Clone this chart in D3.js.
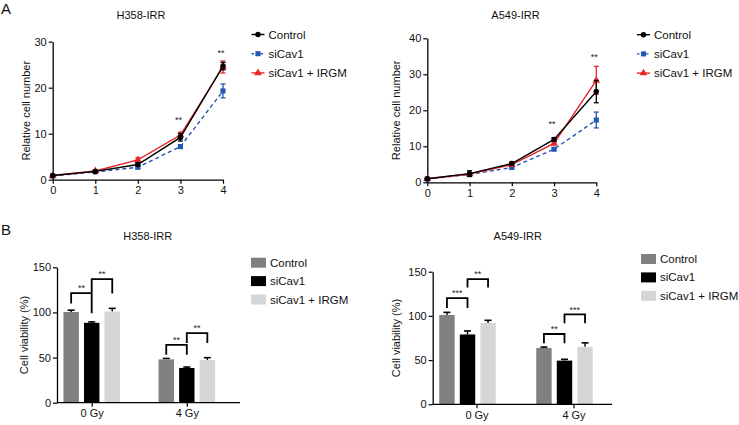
<!DOCTYPE html>
<html>
<head>
<meta charset="utf-8">
<script src="https://cdn.jsdelivr.net/npm/d3@7"></script>
<style>
body{margin:0;background:#fff}
svg{display:block;font-family:"Liberation Sans",Arial,Helvetica,sans-serif}
</style>
</head>
<body>
<svg id="chart" width="739" height="425"></svg>
<script>
// ---------- data
const days = [0, 1, 2, 3, 4];
const seriesNames = ["Control", "siCav1", "siCav1 + IRGM"];

// A: relative cell number, H358-IRR
const h358Control = [0.9, 1.8, 3.3, 9.2, 24.7];
const h358ControlErr = [0.2, 0.2, 0.4, 0.8, 0.8];
const h358SiCav1 = [0.8, 1.7, 2.7, 7.2, 19.3];
const h358SiCav1Err = [0.1, 0.2, 0.3, 0.4, 1.5];
const h358Irgm = [0.9, 1.9, 4.3, 9.7, 24.5];
const h358IrgmErr = [0.1, 0.2, 0.5, 0.6, 1.3];
const h358LineStars = [{day: 3, y: 13.1, label: "**"}, {day: 4, y: 27.8, label: "**"}];

// A: relative cell number, A549-IRR
const a549Control = [1.0, 2.4, 5.2, 11.9, 25.2];
const a549ControlErr = [0.2, 0.8, 0.4, 0.5, 3.1];
const a549SiCav1 = [0.9, 2.2, 4.1, 9.2, 17.3];
const a549SiCav1Err = [0.1, 0.3, 0.2, 0.4, 2.2];
const a549Irgm = [1.0, 2.3, 4.9, 10.8, 28.3];
const a549IrgmErr = [0.1, 0.3, 0.3, 0.3, 3.9];
const a549LineStars = [{day: 3, y: 16.6, label: "**"}, {day: 4, y: 35.1, label: "**"}];

// B: cell viability (%)
const doses = ["0 Gy", "4 Gy"];
const h358Viab = [[100.5, 48], [88.5, 38.5], [101, 47.4]];
const h358ViabErr = [[2, 1], [1, 1], [3.5, 2.5]];
const h358Brackets = [
	{g: 0, a: 0, b: 1, top: 121.5, la: 110, lb: 99, label: "**"},
	{g: 0, a: 1, b: 2, top: 137, la: 122, lb: 121, label: "**"},
	{g: 1, a: 0, b: 1, top: 64, la: 53, lb: 53, label: "**"},
	{g: 1, a: 1, b: 2, top: 77, la: 66, lb: 66, label: "**"}
];
const a549Viab = [[101, 63.7], [79, 49.4], [92, 65]];
const a549ViabErr = [[3, 1], [4, 1.5], [3, 4.5]];
const a549Brackets = [
	{g: 0, a: 0, b: 1, top: 120, la: 109, lb: 109, label: "***"},
	{g: 0, a: 1, b: 2, top: 141.7, la: 132, lb: 132, label: "**"},
	{g: 1, a: 0, b: 1, top: 79.5, la: 69, lb: 69, label: "**"},
	{g: 1, a: 1, b: 2, top: 101.8, la: 91.6, lb: 91.6, label: "***"}
];

const lineYTicksH358 = [0, 10, 20, 30];
const lineYTicksA549 = [0, 10, 20, 30, 40];
const barYTicks = [0, 50, 100, 150];

// ---------- styles
const lineColors = ["#000000", "#2457b3", "#e8262b"];
const lineDash = [null, "4,3", null];
const markers = [d3.symbolCircle, d3.symbolSquare, d3.symbolTriangle];
const markerSize = [24, 26, 26];
const barColors = ["#808080", "#000000", "#d6d6d6"];

const svg = d3.select("#chart");

function styleAxis(g) {
	g.selectAll("path.domain").attr("stroke", "#000").attr("stroke-width", 1.3);
	g.selectAll(".tick line").attr("stroke", "#000").attr("stroke-width", 1.2);
	g.selectAll(".tick text").attr("fill", "#111").style("font-size", "11px")
		.style("font-family", "\"Liberation Sans\",Arial,sans-serif");
}

function title(x, y, txt) {
	svg.append("text").attr("x", x).attr("y", y).attr("text-anchor", "middle")
		.style("font-size", "11px").attr("fill", "#111").text(txt);
}

function yTitle(x, y, txt) {
	svg.append("text").attr("transform", "translate(" + x + "," + y + ") rotate(-90)")
		.attr("text-anchor", "middle").style("font-size", "11px").attr("fill", "#111").text(txt);
}

function lineChart(cfg) {
	var x = d3.scaleLinear().domain([0, 4]).range([cfg.left, cfg.right]);
	var y = d3.scaleLinear().domain([0, cfg.yMax]).range([cfg.bottom, cfg.top]);

	var ax = svg.append("g").attr("transform", "translate(0," + cfg.bottom + ")")
		.call(d3.axisBottom(x).tickValues(days).tickFormat(d3.format("d")).tickSize(4).tickSizeOuter(0).tickPadding(3));
	styleAxis(ax);
	var ay = svg.append("g").attr("transform", "translate(" + cfg.left + ",0)")
		.call(d3.axisLeft(y).tickValues(cfg.yTicks).tickSize(4).tickSizeOuter(0).tickPadding(2));
	styleAxis(ay);

	// draw blue, red, black so black ends up on top
	[1, 2, 0].forEach(function(i) {
		var s = cfg.series[i];
		var g = svg.append("g");
		var pts = days.map(function(d, k) { return {d: d, m: s.mean[k], e: s.err[k]}; });
		g.append("path").datum(pts)
			.attr("fill", "none").attr("stroke", lineColors[i]).attr("stroke-width", 1.4)
			.attr("stroke-dasharray", lineDash[i])
			.attr("d", d3.line().x(function(p) { return x(p.d); }).y(function(p) { return y(p.m); }));
		var eb = g.selectAll(".eb").data(pts).enter().append("g");
		eb.append("line")
			.attr("x1", function(p) { return x(p.d); }).attr("x2", function(p) { return x(p.d); })
			.attr("y1", function(p) { return y(p.m - p.e); }).attr("y2", function(p) { return y(p.m + p.e); })
			.attr("stroke", lineColors[i]).attr("stroke-width", 1.3);
		[-1, 1].forEach(function(sg) {
			eb.append("line")
				.attr("x1", function(p) { return x(p.d) - 2.5; }).attr("x2", function(p) { return x(p.d) + 2.5; })
				.attr("y1", function(p) { return y(p.m + sg * p.e); }).attr("y2", function(p) { return y(p.m + sg * p.e); })
				.attr("stroke", lineColors[i]).attr("stroke-width", 1.3);
		});
		g.selectAll(".mk").data(pts).enter().append("path")
			.attr("transform", function(p) { return "translate(" + x(p.d) + "," + y(p.m) + ")"; })
			.attr("d", d3.symbol().type(markers[i]).size(markerSize[i]))
			.attr("fill", lineColors[i]);
	});

	svg.selectAll(null).data(cfg.stars).enter().append("text")
		.attr("x", function(s) { return x(s.day) - 2; })
		.attr("y", function(s) { return y(s.y) + 4; })
		.attr("text-anchor", "middle").style("font-size", "9px").attr("fill", "#222")
		.text(function(s) { return s.label; });

	title(cfg.titleX, 19, cfg.title);
	yTitle(cfg.yTitleX, (cfg.top + cfg.bottom) / 2, "Relative cell number");

	// legend
	seriesNames.forEach(function(n, i) {
		var ly = cfg.legendY + i * 19.2;
		svg.append("line").attr("x1", cfg.legendX).attr("x2", cfg.legendX + 13)
			.attr("y1", ly).attr("y2", ly).attr("stroke", lineColors[i]).attr("stroke-width", 1.4)
			.attr("stroke-dasharray", i === 1 ? "2.5,2" : null);
		svg.append("path").attr("transform", "translate(" + (cfg.legendX + 6.5) + "," + ly + ")")
			.attr("d", d3.symbol().type(markers[i]).size(markerSize[i])).attr("fill", lineColors[i]);
		svg.append("text").attr("x", cfg.legendX + 17).attr("y", ly + 4)
			.style("font-size", "11.5px").attr("fill", "#111").text(n);
	});
}

function barChart(cfg) {
	var y = d3.scaleLinear().domain([0, 150]).range([cfg.bottom, cfg.top]);
	var gx = d3.scalePoint().domain(doses).range(cfg.groupRange);
	var inner = d3.scaleBand().domain(d3.range(3)).range([-28.25, 28.25]).paddingInner(0.25);
	var bw = inner.bandwidth();
	function cx(g, s) { return gx(doses[g]) + inner(s) + bw / 2; }

	var g = svg.append("g");
	cfg.values.forEach(function(vals, s) {
		vals.forEach(function(v, k) {
			var e = cfg.errs[s][k];
			var bx = cx(k, s);
			g.append("line").attr("x1", bx).attr("x2", bx).attr("y1", y(v)).attr("y2", y(v + e))
				.attr("stroke", "#000").attr("stroke-width", 1.4);
			g.append("line").attr("x1", bx - 3.5).attr("x2", bx + 3.5).attr("y1", y(v + e)).attr("y2", y(v + e))
				.attr("stroke", "#000").attr("stroke-width", 1.6);
			g.append("rect").attr("x", bx - bw / 2).attr("width", bw)
				.attr("y", y(v)).attr("height", y(0) - y(v)).attr("fill", barColors[s]);
		});
	});

	// x axis: line across, ticks at the dose labels
	var xl = d3.scaleLinear().domain([0, 1]).range([cfg.left, cfg.axisEnd]);
	var shifted = d3.scaleOrdinal().domain(doses).range(doses.map(function(d) { return gx(d) + cfg.labelShift; }));
	var ax = svg.append("g").attr("transform", "translate(0," + cfg.bottom + ")")
		.call(d3.axisBottom(shifted).tickSize(4).tickPadding(3));
	ax.select("path.domain").remove();
	styleAxis(ax);
	svg.append("line").attr("x1", xl(0)).attr("x2", xl(1)).attr("y1", cfg.bottom).attr("y2", cfg.bottom)
		.attr("stroke", "#000").attr("stroke-width", 1.3);

	var ay = svg.append("g").attr("transform", "translate(" + cfg.left + ",0)")
		.call(d3.axisLeft(y).tickValues(barYTicks).tickSize(4).tickSizeOuter(0).tickPadding(2));
	styleAxis(ay);

	cfg.brackets.forEach(function(b) {
		var xa = cx(b.g, b.a), xb = cx(b.g, b.b);
		g.append("path")
			.attr("d", "M" + xa + "," + y(b.la) + "V" + y(b.top) + "H" + xb + "V" + y(b.lb))
			.attr("fill", "none").attr("stroke", "#000").attr("stroke-width", 1.8);
		g.append("text").attr("x", (xa + xb) / 2).attr("y", y(b.top + 6.5) + 4)
			.attr("text-anchor", "middle").style("font-size", "9px").attr("fill", "#222").text(b.label);
	});

	title(cfg.titleX, 240, cfg.title);
	yTitle(cfg.yTitleX, (cfg.top + cfg.bottom) / 2, "Cell viability (%)");

	seriesNames.forEach(function(n, i) {
		var ly = cfg.legendY + i * 18.4;
		svg.append("rect").attr("x", cfg.legendX).attr("y", ly - 5).attr("width", 15).attr("height", 10)
			.attr("fill", barColors[i]);
		svg.append("text").attr("x", cfg.legendX + 19).attr("y", ly + 4)
			.style("font-size", "11.5px").attr("fill", "#111").text(n);
	});
}

// panel letters
svg.append("text").attr("x", 1).attr("y", 14).style("font-size", "15px").attr("fill", "#111").text("A");
svg.append("text").attr("x", 1).attr("y", 235).style("font-size", "15px").attr("fill", "#111").text("B");

lineChart({
	left: 52.7, right: 223, top: 41.7, bottom: 179.7, yMax: 30, yTicks: lineYTicksH358,
	title: "H358-IRR", titleX: 141, yTitleX: 30, legendX: 251.5, legendY: 34.5,
	series: [
		{mean: h358Control, err: h358ControlErr},
		{mean: h358SiCav1, err: h358SiCav1Err},
		{mean: h358Irgm, err: h358IrgmErr}
	],
	stars: h358LineStars
});

lineChart({
	left: 427.3, right: 596.3, top: 38.3, bottom: 182.3, yMax: 40, yTicks: lineYTicksA549,
	title: "A549-IRR", titleX: 515.5, yTitleX: 400, legendX: 637, legendY: 34.7,
	series: [
		{mean: a549Control, err: a549ControlErr},
		{mean: a549SiCav1, err: a549SiCav1Err},
		{mean: a549Irgm, err: a549IrgmErr}
	],
	stars: a549LineStars
});

barChart({
	left: 57, axisEnd: 240, top: 267.3, bottom: 402.7, groupRange: [91.7, 186.8], labelShift: 0,
	values: h358Viab, errs: h358ViabErr, brackets: h358Brackets,
	title: "H358-IRR", titleX: 147.7, yTitleX: 28, legendX: 251, legendY: 262.7
});

barChart({
	left: 432.7, axisEnd: 612, top: 271.7, bottom: 404.3, groupRange: [467.5, 564.5], labelShift: 9,
	values: a549Viab, errs: a549ViabErr, brackets: a549Brackets,
	title: "A549-IRR", titleX: 517.7, yTitleX: 400, legendX: 641, legendY: 259
});
</script>
</body>
</html>
